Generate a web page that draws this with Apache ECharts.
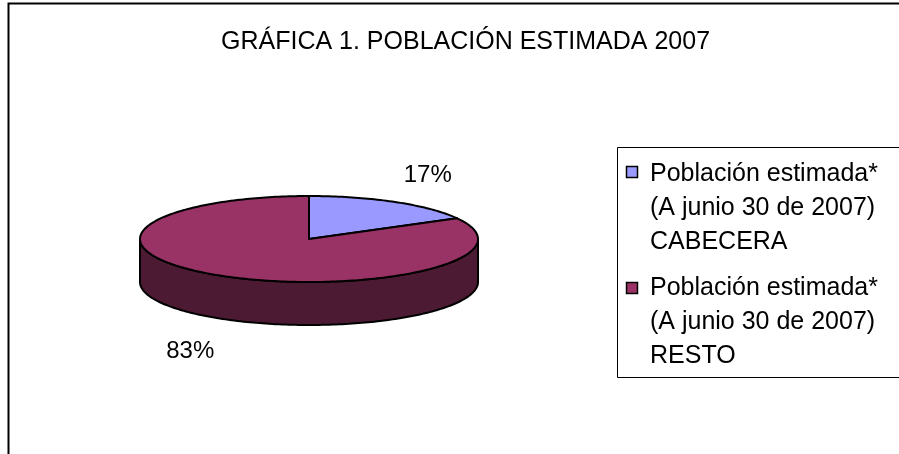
<!DOCTYPE html>
<html>
<head>
<meta charset="utf-8">
<script src="https://cdn.jsdelivr.net/npm/echarts@6/dist/echarts.min.js"></script>
<style>
html,body{margin:0;padding:0;background:#fff;}
#chart{width:899px;height:454px;}
</style>
</head>
<body>
<div id="chart"></div>
<script>
// ---- data ----
const titleText = 'GRÁFICA 1. POBLACIÓN ESTIMADA 2007';
const categories = [
  'Población estimada*\n(A junio 30 de 2007)\nCABECERA',
  'Población estimada*\n(A junio 30 de 2007)\nRESTO'
];
const values = [17, 83];
const topColors = ['#9999FF', '#993366'];
const sideColors = ['#4D4D80', '#4D1A33'];

// ---- layout ----
const FONT = '"Liberation Sans", Arial, sans-serif';
const CX = 309, CY = 239, RX = 169, RY = 43, DEPTH = 43;
const total = values.reduce((a, b) => a + b, 0);

function pt(phi, dy) {
  return [CX + RX * Math.sin(phi), CY - RY * Math.cos(phi) + (dy || 0)];
}
function arc(a, b, dy) {
  const pts = [];
  const n = Math.max(2, Math.ceil(Math.abs(b - a) / 0.02));
  for (let k = 0; k <= n; k++) pts.push(pt(a + (b - a) * k / n, dy));
  return pts;
}

function renderItem(params, api) {
  const i = params.dataIndex;
  const v = api.value(0);
  let before = 0;
  for (let k = 0; k < i; k++) before += values[k];
  const start = before / total * Math.PI * 2;
  const end = start + v / total * Math.PI * 2;
  const children = [];
  // visible front wall: angles between PI/2 and 3PI/2
  const a = Math.max(start, Math.PI / 2), b = Math.min(end, Math.PI * 1.5);
  if (b > a) {
    const pts = arc(a, b, 0).concat(arc(b, a, DEPTH));
    children.push({
      type: 'polygon', z2: 1,
      shape: { points: pts },
      style: { fill: sideColors[i], stroke: '#000', lineWidth: 2, lineJoin: 'round' }
    });
  }
  // top face
  const topPts = [[CX, CY]].concat(arc(start, end, 0));
  children.push({
    type: 'polygon', z2: 10,
    shape: { points: topPts },
    style: { fill: topColors[i], stroke: '#000', lineWidth: 2, lineJoin: 'round' }
  });
  // percent label
  const mid = (start + end) / 2;
  const c = Math.cos(mid);
  const lx = CX + 1.38 * RX * Math.sin(mid);
  const ly = CY - 1.8 * RY * c + (c < 0 ? DEPTH : 0) + 3;
  children.push({
    type: 'text', z2: 20,
    style: {
      text: Math.round(v / total * 100) + '%',
      x: lx, y: ly, align: 'center', verticalAlign: 'middle',
      font: '24px ' + FONT, fill: '#000'
    }
  });
  return { type: 'group', children: children };
}

// legend built as graphic from the category arrays
const legendGraphic = [
  {
    type: 'rect', silent: true,
    shape: { x: 617.5, y: 147.5, width: 400, height: 230 },
    style: { fill: '#fff', stroke: '#000', lineWidth: 1 }
  }
];
categories.forEach(function (name, i) {
  const top = 157 + i * 114;
  legendGraphic.push({
    type: 'rect', silent: true,
    shape: { x: 626.5, y: 166.5 + i * 116, width: 11, height: 11 },
    style: { fill: topColors[i], stroke: '#000', lineWidth: 1.5 }
  });
  legendGraphic.push({
    type: 'text', silent: true,
    style: {
      text: name, x: 650, y: top, align: 'left', verticalAlign: 'top',
      font: '25px ' + FONT, lineHeight: 34, fill: '#000'
    }
  });
});

const chart = echarts.init(document.getElementById('chart'));
chart.setOption({
  animation: false,
  backgroundColor: '#fff',
  title: {
    text: titleText,
    left: 216, top: 25,
    textStyle: { fontFamily: FONT, fontSize: 25, fontWeight: 'normal', color: '#000' }
  },
  graphic: [
    {
      type: 'rect', silent: true,
      shape: { x: 8.5, y: 3.5, width: 1200, height: 1200 },
      style: { fill: 'none', stroke: '#000', lineWidth: 2 }
    }
  ].concat(legendGraphic),
  series: [{
    type: 'custom',
    coordinateSystem: 'none',
    renderItem: renderItem,
    data: values.map(function (v, i) { return { name: categories[i], value: [v, i] }; })
  }]
});
</script>
</body>
</html>
